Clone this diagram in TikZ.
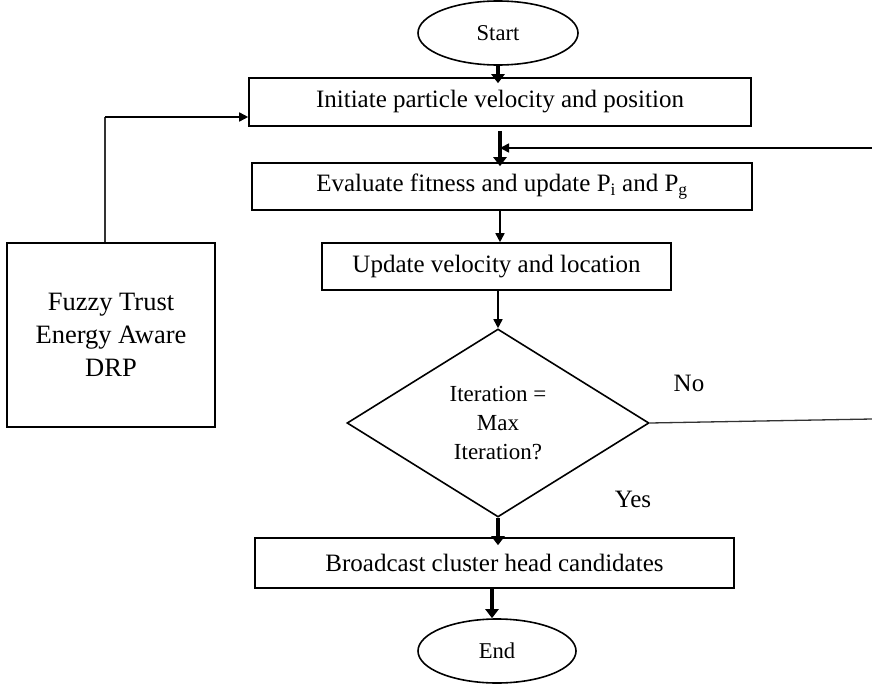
\documentclass[tikz,border=0pt]{standalone}
\usepackage{fontspec}
\setmainfont{Liberation Serif}
\usetikzlibrary{arrows.meta,shapes.geometric}
\begin{document}
\begin{tikzpicture}[x=1pt,y=-1pt,
  box/.style={draw,line width=1.6pt,inner sep=0pt,font=\fontsize{25}{30}\selectfont},
  term/.style={draw,ellipse,line width=1.6pt,inner sep=0pt,font=\fontsize{22.6}{27}\selectfont},
  bigarrow/.style={line width=4pt,-{Triangle[length=9pt,width=13pt]}},
  smallarrow/.style={line width=1.6pt,-{Triangle[length=9pt,width=9pt]}},
  link/.style={line width=1.3pt,black!80},
  lbl/.style={font=\fontsize{25}{30}\selectfont,inner sep=0pt}]
\useasboundingbox (0,0) rectangle (872,685);

% terminals
\node[term,minimum width=160pt,minimum height=64pt] (start) at (498,33) {Start};
\node[term,minimum width=158pt,minimum height=64pt] (stop) at (497,651) {End};

% process boxes (trailing space keeps the text a little left of centre)
\node[box,minimum width=502pt,minimum height=48pt] (init) at (500,102)
  {Initiate particle velocity and position\hspace{13pt}};
\node[box,minimum width=500pt,minimum height=47pt] (eval) at (502,186.5)
  {Evaluate fitness and update P\textsubscript{i} and P\textsubscript{g}\hspace{14pt}};
\node[box,minimum width=349pt,minimum height=47pt] (upd) at (496.5,266.5)
  {Update velocity and location\hspace{8pt}};
\node[box,minimum width=479pt,minimum height=50pt] (bcast) at (494.5,563)
  {Broadcast cluster head candidates};
\node[box,minimum width=208pt,minimum height=184pt,align=center,
  font=\fontsize{26.5}{33}\selectfont] (fuzzy) at (111,335)
  {Fuzzy Trust\\Energy Aware\\DRP};

% decision
\node[draw,diamond,line width=1.6pt,minimum width=302pt,minimum height=188pt,
  inner sep=0pt,align=center,font=\fontsize{23}{29}\selectfont] (dec) at (498,423)
  {\rule{0pt}{8pt}Iteration =\\Max\\Iteration?};

% branch labels
\node[lbl] (no) at (689,383) {No};
\node[lbl] (yes) at (633,499) {Yes};

% loop-back ends at the right margin, corner of the fuzzy link
\coordinate (rtop) at (872,148);
\coordinate (rbot) at (872,419);
\coordinate (bend) at ([xshift=-6pt]fuzzy.north |- 0,117);

% connectors
\draw[bigarrow,shorten >=-6pt] (start.south) -- (start.south |- init.north);
\draw[bigarrow,shorten >=-4pt] ([yshift=-4pt]init.south) -- (init.south |- eval.north);
\draw[smallarrow] (rtop) -- (init.south |- rtop);
\draw[smallarrow] (eval.south -| init.south) -- (upd.north -| init.south);
\draw[smallarrow] (upd.south -| dec.north) -- (dec.north);
\draw[link] (dec.east) -- (rbot);
\draw[bigarrow,shorten >=-8pt] (dec.south) -- (dec.south |- bcast.north);
\draw[bigarrow] ([xshift=-2.5pt]bcast.south) -- ([xshift=-2.5pt]bcast.south |- stop.north);
\draw[link] ([xshift=-6pt]fuzzy.north) -- (bend);
\draw[smallarrow] (bend) -- (init.west |- bend);
\end{tikzpicture}
\end{document}
